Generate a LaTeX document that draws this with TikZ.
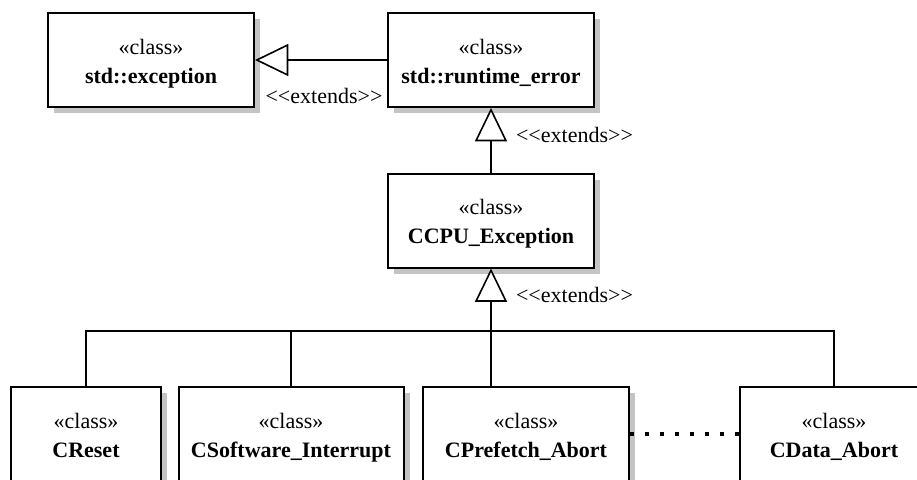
\documentclass[tikz,border=0pt]{standalone}
\usepackage{fontspec}
\setmainfont{Liberation Serif}
\usetikzlibrary{arrows.meta,positioning}

% stereotype + class name, lowered a little inside the box
\newcommand{\classtext}[1]{\raisebox{-2.25pt}[\height][\depth]{%
    \begin{tabular}{@{}c@{}}«class»\\\textbf{#1}\end{tabular}}}

\begin{document}
\begin{tikzpicture}[x=0.75pt, y=-0.75pt,
    classbox/.style={draw, line width=1.5pt, fill=white, minimum height=70.5pt,
        inner sep=0pt, font=\fontsize{16.5}{21.75}\selectfont},
    boxshadow/.style={fill=black!23},
    extends/.style={-{Triangle[open, fill=white, length=25pt, width=24pt]}, line width=1.2pt},
    link/.style={line width=1.2pt},
    dots/.style={line width=3pt, dash pattern=on 3pt off 8.25pt},
    stereo/.style={anchor=base, inner sep=0pt, font=\fontsize{16.5}{20}\selectfont}]

    \useasboundingbox (0,0) rectangle (917,479);
    \clip (0,0) rectangle (917,479);
    \fill[white] (0,0) rectangle (917,479);

    % Shadows (centre x / centre y / width, all boxes 94 high)
    \foreach \cx/\cy/\w in {151/60/206, 491/60/206, 491/220.5/206, 86/434/150,
                            291/434/225, 526/434/206, 834/434/188}
        \fill[boxshadow] (\cx-\w/2+6, \cy-41) rectangle (\cx+\w/2+6, \cy+53);

    % --- Top row ---
    \node[classbox, minimum width=154.5pt] (exc) at (151,60) {\classtext{std::exception}};
    \node[classbox, minimum width=154.5pt] (rte) at (491,60) {\classtext{std::runtime\_error}};

    % --- Middle ---
    \node[classbox, minimum width=154.5pt] (ccpu) at (491,220.5) {\classtext{CCPU\_Exception}};

    % --- Bottom row ---
    \node[classbox, minimum width=112.5pt] (reset) at (86,434) {\classtext{CReset}};
    \node[classbox, minimum width=168.75pt] (softint) at (291,434) {\classtext{CSoftware\_Interrupt}};
    \node[classbox, minimum width=154.5pt] (prefetch) at (526,434) {\classtext{CPrefetch\_Abort}};
    \node[classbox, minimum width=141pt] (dabort) at (834,434) {\classtext{CData\_Abort}};

    % Generalisations
    \draw[extends] (rte) -- (exc);
    \node[stereo] (ext1) at (324,103) {<\kern0pt<extends>\kern0pt>};
    \draw[extends] (ccpu) -- (rte);
    \node[stereo] (ext2) at (574.5,142) {<\kern0pt<extends>\kern0pt>};

    \coordinate (bus) at (491,331);
    \draw[extends] (bus) -- (ccpu);
    \node[stereo] (ext3) at (574.5,302) {<\kern0pt<extends>\kern0pt>};

    % Bus to subclasses
    \draw[link] (reset.north) |- (bus) -| (dabort.north);
    \draw[link] (softint.north) -- (softint.north |- bus);
    \draw[link] (prefetch.north -| bus) -- (bus);

    % Omitted classes
    \draw[dots] (prefetch) -- (dabort);
\end{tikzpicture}
\end{document}
